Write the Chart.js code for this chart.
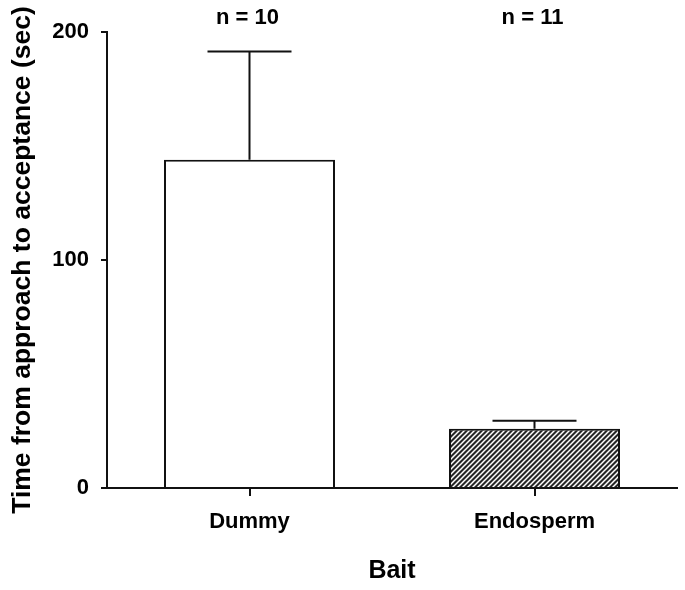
<!DOCTYPE html>
<html>
<head>
<meta charset="utf-8">
<script src="https://cdn.jsdelivr.net/npm/chart.js@4"></script>
<style>
  html, body { margin: 0; padding: 0; background: #fff; }
  #wrap { width: 685px; height: 590px; }
</style>
</head>
<body>
<div id="wrap"><canvas id="myChart" width="685" height="590"></canvas></div>
<script>
const categories = ['Dummy', 'Endosperm'];
const means = [144, 26];
const sem = [47.5, 3.5];
const sampleSizes = ['n = 10', 'n = 11'];
const yTicks = [0, 100, 200];

const FONT = "'Liberation Sans', Arial, Helvetica, sans-serif";

// diagonal hatch for the second bar
function makeHatch() {
    const c = document.createElement('canvas');
    c.width = 5;
    c.height = 5;
    const g = c.getContext('2d');
    g.fillStyle = '#262626';
    g.fillRect(0, 0, 5, 5);
    g.strokeStyle = '#ffffff';
    g.lineWidth = 1.5;
    g.beginPath();
    g.moveTo(-1, 6); g.lineTo(6, -1);
    g.moveTo(-1, 1); g.lineTo(1, -1);
    g.moveTo(4, 6); g.lineTo(6, 4);
    g.stroke();
    return g.createPattern(c, 'repeat');
}

const errorBars = {
    id: 'errorBars',
    afterDatasetsDraw(chart) {
        const ctx = chart.ctx;
        const y = chart.scales.y;
        const meta = chart.getDatasetMeta(0);
        ctx.save();
        ctx.strokeStyle = '#111';
        ctx.lineWidth = 2;
        meta.data.forEach((bar, i) => {
            const x = bar.x;
            const yb = y.getPixelForValue(means[i]);
            const yt = y.getPixelForValue(means[i] + sem[i]);
            ctx.beginPath();
            ctx.moveTo(x, yb);
            ctx.lineTo(x, yt);
            ctx.moveTo(x - 42, yt);
            ctx.lineTo(x + 42, yt);
            ctx.stroke();
        });
        // n labels above the plot
        ctx.fillStyle = '#000';
        ctx.font = 'bold 22px ' + FONT;
        ctx.textAlign = 'center';
        ctx.textBaseline = 'middle';
        meta.data.forEach((bar, i) => {
            ctx.fillText(sampleSizes[i], bar.x - 2, chart.chartArea.top - 14);
        });
        ctx.restore();
    }
};

const ctx = document.getElementById('myChart');
new Chart(ctx, {
    type: 'bar',
    data: {
        labels: categories,
        datasets: [{
            data: means,
            backgroundColor: ['#ffffff', makeHatch()],
            borderColor: '#111',
            borderWidth: 2,
            barPercentage: 0.6,
            categoryPercentage: 1
        }]
    },
    options: {
        responsive: false,
        animation: false,
        layout: { padding: { top: 32, right: 8, left: 0, bottom: 0 } },
        plugins: {
            legend: { display: false },
            tooltip: { enabled: false }
        },
        scales: {
            x: {
                grid: {
                    offset: false,
                    drawOnChartArea: false,
                    tickLength: 8,
                    color: '#111',
                    lineWidth: 2
                },
                border: { color: '#111', width: 2 },
                ticks: {
                    color: '#000',
                    padding: 13,
                    font: { family: FONT, size: 22, weight: 'bold' }
                },
                title: {
                    display: true,
                    text: 'Bait',
                    color: '#000',
                    padding: { top: 18 },
                    font: { family: FONT, size: 25, weight: 'bold' }
                },
                afterFit(scale) { scale.height = 102; }
            },
            y: {
                min: 0,
                max: 200,
                afterBuildTicks(scale) {
                    scale.ticks = yTicks.map(v => ({ value: v }));
                },
                grid: {
                    drawOnChartArea: false,
                    tickLength: 6,
                    color: '#111',
                    lineWidth: 2
                },
                border: { color: '#111', width: 2 },
                ticks: {
                    color: '#000',
                    padding: 12,
                    font: { family: FONT, size: 22, weight: 'bold' }
                },
                title: {
                    display: true,
                    text: 'Time from approach to acceptance (sec)',
                    color: '#000',
                    padding: { top: 7, bottom: 0 },
                    font: { family: FONT, size: 26.5, weight: 'bold' }
                },
                afterFit(scale) { scale.width = 107; }
            }
        }
    },
    plugins: [errorBars]
});
</script>
</body>
</html>
